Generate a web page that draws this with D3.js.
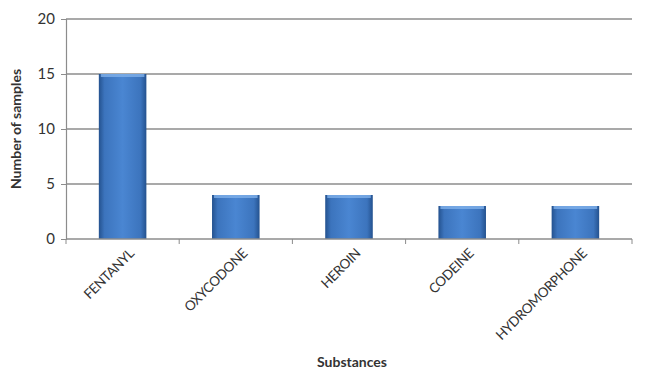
<!DOCTYPE html>
<html>
<head>
<meta charset="utf-8">
<script src="https://cdn.jsdelivr.net/npm/d3@7"></script>
<style>
  body { margin: 0; background: #fff; }
  text { font-family: Lato, "Open Sans", sans-serif; fill: #333; }
</style>
</head>
<body>
<div id="chart"></div>
<script>
const substances = ["FENTANYL", "OXYCODONE", "HEROIN", "CODEINE", "HYDROMORPHONE"];
const samples = [15, 4, 4, 3, 3];
const yTicks = [0, 5, 10, 15, 20];

const width = 650, height = 374;
const margin = {top: 18, right: 18, bottom: 135, left: 66};

const svg = d3.select("#chart")
    .append("svg")
    .attr("width", width)
    .attr("height", height);

// bar gradient, darker at the edges
const defs = svg.append("defs");
const grad = defs.append("linearGradient").attr("id", "barGrad")
    .attr("x1", "0%").attr("x2", "100%").attr("y1", "0%").attr("y2", "0%");
grad.append("stop").attr("offset", "0%").attr("stop-color", "#24528f");
grad.append("stop").attr("offset", "12%").attr("stop-color", "#3c74bd");
grad.append("stop").attr("offset", "50%").attr("stop-color", "#4a86d2");
grad.append("stop").attr("offset", "88%").attr("stop-color", "#3c74bd");
grad.append("stop").attr("offset", "100%").attr("stop-color", "#24528f");

const x = d3.scaleBand()
    .domain(substances)
    .range([margin.left, width - margin.right])
    .paddingInner(0.58)
    .paddingOuter(0.29);

const y = d3.scaleLinear()
    .domain([0, 20])
    .range([height - margin.bottom, margin.top + 1]);

// gridlines
svg.append("g")
    .selectAll("line")
    .data(yTicks.slice(1))
    .enter()
    .append("line")
    .attr("x1", margin.left)
    .attr("x2", width - margin.right)
    .attr("y1", d => y(d))
    .attr("y2", d => y(d))
    .attr("stroke", "#8c8c8c")
    .attr("stroke-width", 1.6);

// y axis
const yAxis = svg.append("g")
    .attr("transform", `translate(${margin.left},0)`)
    .call(d3.axisLeft(y).tickValues(yTicks).tickSize(5).tickPadding(6));
yAxis.select(".domain").attr("stroke", "#8c8c8c").attr("stroke-width", 1.2);
yAxis.selectAll(".tick line").attr("stroke", "#8c8c8c");
yAxis.selectAll("text").style("font-size", "15px").attr("fill", "#333");

// bars
svg.append("g")
    .selectAll("rect")
    .data(substances)
    .enter()
    .append("rect")
    .attr("x", d => x(d))
    .attr("y", (d, i) => y(samples[i]))
    .attr("width", x.bandwidth())
    .attr("height", (d, i) => y(0) - y(samples[i]))
    .attr("fill", "url(#barGrad)");

// light cap on top of each bar
svg.append("g")
    .selectAll("rect")
    .data(substances)
    .enter()
    .append("rect")
    .attr("x", d => x(d) + 2)
    .attr("y", (d, i) => y(samples[i]))
    .attr("width", x.bandwidth() - 4)
    .attr("height", 3)
    .attr("fill", "#7fb0ea")
    .attr("opacity", 0.8);

// x axis with ticks at category boundaries
const bounds = d3.range(substances.length + 1)
    .map(i => margin.left + i * (width - margin.right - margin.left) / substances.length);
const xAxisG = svg.append("g");
xAxisG.append("line")
    .attr("x1", margin.left).attr("x2", width - margin.right)
    .attr("y1", y(0)).attr("y2", y(0))
    .attr("stroke", "#8c8c8c").attr("stroke-width", 1.4);
xAxisG.selectAll(".bt")
    .data(bounds)
    .enter()
    .append("line")
    .attr("class", "bt")
    .attr("x1", d => d).attr("x2", d => d)
    .attr("y1", y(0)).attr("y2", y(0) + 5)
    .attr("stroke", "#8c8c8c");

// rotated category labels
xAxisG.selectAll(".lbl")
    .data(substances)
    .enter()
    .append("text")
    .attr("class", "lbl")
    .attr("transform", d => `translate(${x(d) + x.bandwidth() / 2 + 9},${y(0) + 12}) rotate(-45)`)
    .attr("text-anchor", "end")
    .attr("dy", "0.35em")
    .style("font-size", "13.5px")
    .style("letter-spacing", "-0.4px")
    .text(d => d);

// axis titles
svg.append("text")
    .attr("transform", `translate(21,${(y(0) + y(20)) / 2}) rotate(-90)`)
    .attr("text-anchor", "middle")
    .style("font-size", "14px")
    .style("font-weight", "bold")
    .text("Number of samples");

svg.append("text")
    .attr("x", 352)
    .attr("y", 367)
    .attr("text-anchor", "middle")
    .style("font-size", "14px")
    .style("font-weight", "bold")
    .text("Substances");
</script>
</body>
</html>
